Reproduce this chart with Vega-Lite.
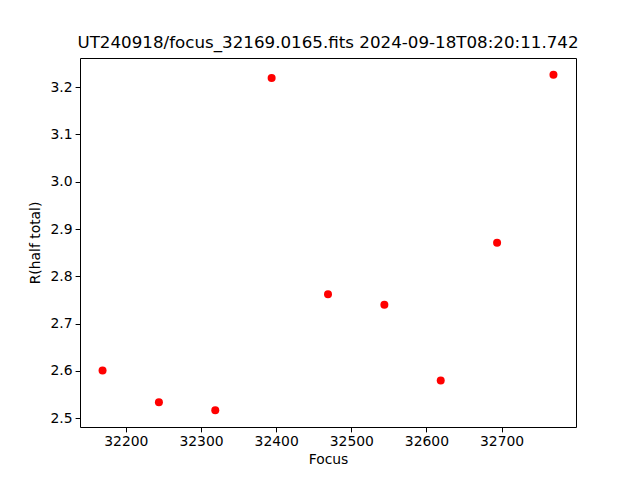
{
  "$schema": "https://vega.github.io/schema/vega-lite/v6.json",
  "width": 496,
  "height": 369,
  "autosize": {"type": "none"},
  "padding": {"left": 80, "top": 58, "right": 64, "bottom": 53},
  "background": "white",
  "title": {
    "text": "UT240918/focus_32169.0165.fits 2024-09-18T08:20:11.742",
    "font": "DejaVu Sans",
    "fontSize": 16.7,
    "fontWeight": "normal",
    "color": "black",
    "anchor": "middle",
    "offset": 6
  },
  "config": {
    "view": {"stroke": "black", "strokeWidth": 1},
    "axis": {
      "grid": false,
      "domain": false,
      "tickColor": "black",
      "tickSize": 4.9,
      "tickWidth": 1,
      "labelFont": "DejaVu Sans",
      "labelFontSize": 13.9,
      "labelColor": "black",
      "labelPadding": 3,
      "titleFont": "DejaVu Sans",
      "titleFontSize": 13.9,
      "titleFontWeight": "normal",
      "titleColor": "black"
    }
  },
  "data": {
    "values": [
      {"focus": 32169, "r": 2.601},
      {"focus": 32244, "r": 2.534},
      {"focus": 32319, "r": 2.517},
      {"focus": 32394, "r": 3.219},
      {"focus": 32469, "r": 2.762},
      {"focus": 32544, "r": 2.740},
      {"focus": 32619, "r": 2.580},
      {"focus": 32694, "r": 2.871},
      {"focus": 32769, "r": 3.226}
    ]
  },
  "mark": {"type": "point", "filled": true, "shape": "circle", "size": 64, "color": "#ff0000", "opacity": 1},
  "encoding": {
    "x": {
      "field": "focus",
      "type": "quantitative",
      "title": "Focus",
      "scale": {"domain": [32139, 32799], "nice": false, "zero": false},
      "axis": {"values": [32200, 32300, 32400, 32500, 32600, 32700], "format": "d", "titlePadding": 4}
    },
    "y": {
      "field": "r",
      "type": "quantitative",
      "title": "R(half total)",
      "scale": {"domain": [2.4815, 3.2615], "nice": false, "zero": false},
      "axis": {"values": [2.5, 2.6, 2.7, 2.8, 2.9, 3.0, 3.1, 3.2], "format": ".1f", "titlePadding": 8}
    }
  }
}
